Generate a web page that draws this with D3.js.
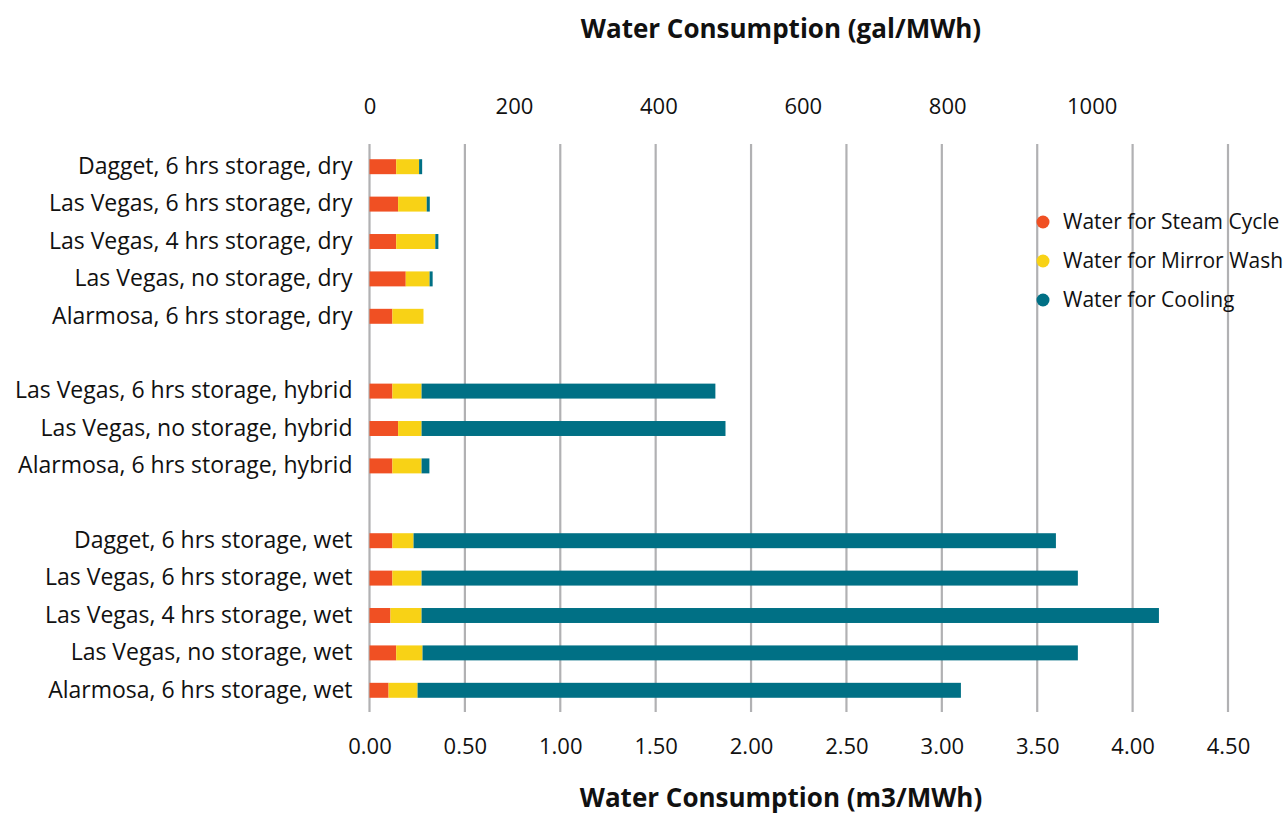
<!DOCTYPE html>
<html>
<head>
<meta charset="utf-8">
<script src="https://cdn.jsdelivr.net/npm/d3@7"></script>
<style>
  body { margin: 0; background: #fff; }
  text { font-family: "Open Sans", "Noto Sans", sans-serif; fill: #111; }
</style>
</head>
<body>
<script>
var outerWidth = 1284, outerHeight = 814;

// row labels, top to bottom ("" = empty spacer row)
var categories = [
  "Dagget, 6 hrs storage, dry",
  "Las Vegas, 6 hrs storage, dry",
  "Las Vegas, 4 hrs storage, dry",
  "Las Vegas, no storage, dry",
  "Alarmosa, 6 hrs storage, dry",
  "",
  "Las Vegas, 6 hrs storage, hybrid",
  "Las Vegas, no storage, hybrid",
  "Alarmosa, 6 hrs storage, hybrid",
  " ",
  "Dagget, 6 hrs storage, wet",
  "Las Vegas, 6 hrs storage, wet",
  "Las Vegas, 4 hrs storage, wet",
  "Las Vegas, no storage, wet",
  "Alarmosa, 6 hrs storage, wet"
];

// m3/MWh
var steamCycle = [0.14, 0.15, 0.14, 0.19, 0.12, 0, 0.12, 0.15, 0.12, 0, 0.12, 0.12, 0.11, 0.14, 0.10];
var mirrorWash = [0.12, 0.15, 0.205, 0.125, 0.163, 0, 0.153, 0.123, 0.153, 0, 0.111, 0.153, 0.163, 0.138, 0.152];
var cooling    = [0.016, 0.016, 0.016, 0.016, 0, 0, 1.54, 1.593, 0.041, 0, 3.367, 3.44, 3.865, 3.435, 2.848];

var seriesNames = ["Water for Steam Cycle", "Water for Mirror Wash", "Water for Cooling"];
var seriesColors = ["#f05023", "#f8d216", "#007085"];

var bottomTicks = [0, 0.5, 1, 1.5, 2, 2.5, 3, 3.5, 4, 4.5];
var topTicks = [0, 200, 400, 600, 800, 1000];
var galPerM3 = 264.172;

var x0 = 369.5, x1 = 1228;
var gridTop = 144, gridBottom = 712;

var table = categories.map(function (c, i) {
  return { cat: c, steam: steamCycle[i], mirror: mirrorWash[i], cooling: cooling[i] };
});
var stack = d3.stack().keys(["steam", "mirror", "cooling"])(table);

var x = d3.scaleLinear().domain([0, 4.5]).range([x0, x1]);
var xGal = d3.scaleLinear().domain([0, 4.5 * galPerM3]).range([x0, x1]);
var y = d3.scaleBand().domain(categories).range([148, 709]).paddingInner(0.6).paddingOuter(0.3);

var svg = d3.select("body").append("svg")
  .attr("width", outerWidth)
  .attr("height", outerHeight);

// gridlines
svg.append("g").selectAll("line")
  .data(bottomTicks)
  .enter().append("line")
  .attr("x1", function (d) { return x(d); })
  .attr("x2", function (d) { return x(d); })
  .attr("y1", gridTop)
  .attr("y2", gridBottom)
  .style("stroke", "#b1b1b3")
  .style("stroke-width", 2.2);

// stacked bars
svg.append("g").selectAll("g")
  .data(stack)
  .enter().append("g")
  .style("fill", function (d, i) { return seriesColors[i]; })
  .selectAll("rect")
  .data(function (d) { return d; })
  .enter().append("rect")
  .attr("x", function (d) { return x(d[0]); })
  .attr("y", function (d) { return y(d.data.cat); })
  .attr("width", function (d) { return x(d[1]) - x(d[0]); })
  .attr("height", y.bandwidth());

// category labels
var yAxis = d3.axisLeft(y).tickSize(0).tickPadding(17);
svg.append("g")
  .attr("transform", "translate(" + x0 + ",0)")
  .call(yAxis)
  .call(function (g) { g.select(".domain").remove(); })
  .selectAll("text")
  .style("font-size", "23px")
  .style("font-family", "'Open Sans', sans-serif")
  .style("fill", "#111");

// bottom axis (m3/MWh)
var xAxis = d3.axisBottom(x).tickValues(bottomTicks).tickFormat(d3.format(".2f")).tickSize(0).tickPadding(0);
svg.append("g")
  .attr("transform", "translate(0,738)")
  .call(xAxis)
  .call(function (g) { g.select(".domain").remove(); })
  .selectAll("text")
  .style("font-size", "22px")
  .style("font-family", "'Open Sans', sans-serif")
  .style("fill", "#111");

// top axis (gal/MWh)
var xAxisTop = d3.axisTop(xGal).tickValues(topTicks).tickFormat(d3.format("d")).tickSize(0).tickPadding(0);
svg.append("g")
  .attr("transform", "translate(0,114)")
  .call(xAxisTop)
  .call(function (g) { g.select(".domain").remove(); })
  .selectAll("text")
  .style("font-size", "22px")
  .style("font-family", "'Open Sans', sans-serif")
  .style("fill", "#111");

// axis titles
svg.append("text")
  .attr("x", 781).attr("y", 38)
  .attr("text-anchor", "middle")
  .style("font-size", "26px")
  .style("font-weight", "bold")
  .text("Water Consumption (gal/MWh)");

svg.append("text")
  .attr("x", 781).attr("y", 807)
  .attr("text-anchor", "middle")
  .style("font-size", "26px")
  .style("font-weight", "bold")
  .text("Water Consumption (m3/MWh)");

// legend
var legend = svg.append("g").selectAll("g")
  .data(seriesNames)
  .enter().append("g")
  .attr("transform", function (d, i) { return "translate(1043," + (222 + i * 39) + ")"; });

legend.append("circle")
  .attr("r", 6.5)
  .style("fill", function (d, i) { return seriesColors[i]; });

legend.append("text")
  .attr("x", 20)
  .attr("dy", "0.35em")
  .style("font-size", "21px")
  .text(function (d) { return d; });
</script>
</body>
</html>
